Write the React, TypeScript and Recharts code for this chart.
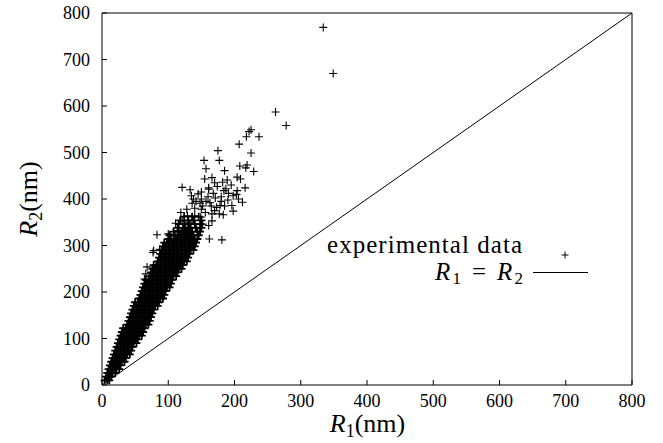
import { ScatterChart, Scatter, XAxis, YAxis, ReferenceLine } from "recharts";

const TICKS = [0, 100, 200, 300, 400, 500, 600, 700, 800];

// dense part of the cloud, one row per R2 level (nm), R1 values read across the band
const coreR2 = [
  10, 18, 26, 34, 42, 50, 58, 66, 74, 82, 90, 98, 106, 114, 122, 130, 138, 146, 154, 162, 170,
  178, 186, 194, 202, 210, 218, 226, 234, 242, 250, 258, 266, 274, 282, 290, 298, 306, 314, 322,
  330, 338, 346, 354, 362,
];
const coreR1 = [
  [4, 8, 11],
  [6, 10, 14],
  [8, 12, 16, 20],
  [10, 14, 18, 22, 26],
  [12, 16, 20, 24, 28],
  [14, 18, 22, 26, 30, 34],
  [16, 20, 24, 28, 32, 36],
  [18, 22, 26, 30, 34, 38, 42],
  [20, 24, 28, 32, 36, 40, 44],
  [22, 26, 30, 34, 38, 42, 46],
  [24, 28, 32, 36, 40, 44, 48, 52],
  [26, 30, 34, 38, 42, 46, 50, 54],
  [28, 32, 36, 40, 44, 48, 52, 56, 60],
  [30, 34, 38, 42, 46, 50, 54, 58, 62],
  [32, 36, 40, 44, 48, 52, 56, 60, 64],
  [38, 42, 46, 50, 54, 58, 62, 66, 70],
  [40, 44, 48, 52, 56, 60, 64, 68, 72],
  [42, 46, 50, 54, 58, 62, 66, 70, 74],
  [44, 48, 52, 56, 60, 64, 68, 72, 76],
  [46, 50, 54, 58, 62, 66, 70, 74, 78],
  [48, 52, 56, 60, 64, 68, 72, 76, 80, 84],
  [50, 54, 58, 62, 66, 70, 74, 78, 82, 86],
  [56, 60, 64, 68, 72, 76, 80, 84, 88, 92],
  [58, 62, 66, 70, 74, 78, 82, 86, 90, 94],
  [60, 64, 68, 72, 76, 80, 84, 88, 92, 96],
  [62, 66, 70, 74, 78, 82, 86, 90, 94, 98, 102],
  [64, 68, 72, 76, 80, 84, 88, 92, 96, 100, 104],
  [66, 70, 74, 78, 82, 86, 90, 94, 98, 102, 106],
  [72, 76, 80, 84, 88, 92, 96, 100, 104, 108, 112],
  [74, 78, 82, 86, 90, 94, 98, 102, 106, 110, 114],
  [76, 80, 84, 88, 92, 96, 100, 104, 108, 112, 116, 120],
  [78, 82, 86, 90, 94, 98, 102, 106, 110, 114, 118, 122],
  [84, 88, 92, 96, 100, 104, 108, 112, 116, 120, 124, 128],
  [86, 90, 94, 98, 102, 106, 110, 114, 118, 122, 126, 130],
  [88, 92, 96, 100, 104, 108, 112, 116, 120, 124, 128, 132],
  [90, 94, 98, 102, 106, 110, 114, 118, 122, 126, 130, 134, 138],
  [92, 96, 100, 104, 108, 112, 116, 120, 124, 128, 132, 136, 140],
  [94, 98, 102, 106, 110, 114, 118, 122, 126, 130, 134, 138, 142],
  [100, 104, 108, 112, 116, 120, 124, 128, 132, 136, 140, 144],
  [102, 110, 114, 118, 122, 126, 130, 134, 138, 146],
  [108, 116, 120, 124, 128, 132, 136, 144, 148],
  [114, 122, 126, 130, 134, 142, 150],
  [116, 124, 132, 140, 148],
  [118, 130, 138, 150],
  [124, 136, 146],
];

// scattered points around and above the band
const outR1 = [
  334, 349, 262, 278, 225, 222, 218, 237, 207, 175, 225, 154, 177, 157, 185, 208, 219, 217, 229,
  155, 166, 189, 204, 209, 121, 133, 135, 161, 174, 187, 191, 198, 203, 145, 184, 216, 161, 204,
  148, 136, 157, 171, 173, 212, 156, 166, 177, 183, 198, 119, 129, 140, 149, 111, 121, 131, 141,
  152, 161, 166, 83, 100, 115, 124, 162, 181, 87, 77, 91, 68, 64, 60, 66, 78, 150, 160, 180, 190,
  165, 185, 140, 150, 170, 142, 152, 163, 178, 196, 206, 168, 180, 150, 138, 195, 170, 182, 128,
];
const outR2 = [
  769, 670, 587, 558, 549, 545, 534, 534, 518, 504, 499, 483, 483, 465, 461, 471, 473, 467, 459,
  443, 446, 441, 447, 443, 425, 420, 407, 424, 427, 422, 412, 407, 410, 411, 418, 424, 421, 418,
  391, 391, 395, 402, 382, 393, 371, 368, 368, 366, 374, 371, 364, 364, 361, 348, 353, 350, 339,
  346, 343, 353, 323, 325, 332, 321, 314, 312, 292, 285, 274, 254, 228, 188, 239, 289, 400, 405,
  395, 398, 385, 385, 380, 378, 375, 395, 385, 392, 386, 386, 400, 412, 405, 415, 400, 430, 435,
  436, 378,
];

const diagR1 = [0, 800];
const diagR2 = [0, 800];

const corePoints = coreR2.flatMap((r2, i) => coreR1[i].map((r1) => ({ x: r1, y: r2 })));
const outPoints = outR1.map((r1, i) => ({ x: r1, y: outR2[i] }));

const FONT = '"Liberation Serif", "DejaVu Serif", "Times New Roman", serif';

const cross = (w: number) => (props: any) => {
  const { cx, cy } = props;
  return <path d={`M${cx - 4},${cy}h8M${cx},${cy - 4}v8`} stroke="#000" strokeWidth={w} fill="none" />;
};
// many thousand overlapping markers in the original make the band solid
const CoreCross = cross(1.8);
const OutCross = cross(1.1);

const BottomTick = ({ x, y, payload }: any) => (
  <g>
    <line x1={x} y1={y} x2={x} y2={y - 5} stroke="#000" />
    <text x={x} y={y + 22} textAnchor="middle" fill="#000" style={{ fontFamily: FONT, fontSize: 18 }}>
      {payload.value}
    </text>
  </g>
);

const LeftTick = ({ x, y, payload }: any) => (
  <g>
    <line x1={x} y1={y} x2={x + 5} y2={y} stroke="#000" />
    <text x={x - 12} y={y + 6} textAnchor="end" fill="#000" style={{ fontFamily: FONT, fontSize: 18 }}>
      {payload.value}
    </text>
  </g>
);

const TopTick = ({ x, y }: any) => <line x1={x} y1={y} x2={x} y2={y + 5} stroke="#000" />;
const RightTick = ({ x, y }: any) => <line x1={x} y1={y} x2={x - 5} y2={y} stroke="#000" />;

export default function App() {
  return (
    <div style={{ position: "absolute", left: 0, top: 0, width: 663, height: 443, background: "#fff", fontFamily: FONT }}>
      <ScatterChart width={663} height={443} margin={{ top: 0, right: 0, bottom: 0, left: 0 }}>
        <XAxis xAxisId="b" type="number" dataKey="x" domain={[0, 800]} ticks={TICKS} height={58}
          axisLine={{ stroke: "#000" }} tickLine={false} tickSize={0} tickMargin={0} tick={<BottomTick />} />
        <XAxis xAxisId="t" orientation="top" type="number" domain={[0, 800]} ticks={TICKS} height={13}
          axisLine={{ stroke: "#000" }} tickLine={false} tickSize={0} tickMargin={0} tick={<TopTick />} />
        <YAxis yAxisId="l" type="number" dataKey="y" domain={[0, 800]} ticks={TICKS} width={102}
          axisLine={{ stroke: "#000" }} tickLine={false} tickSize={0} tickMargin={0} tick={<LeftTick />} />
        <YAxis yAxisId="r" orientation="right" type="number" domain={[0, 800]} ticks={TICKS} width={31}
          axisLine={{ stroke: "#000" }} tickLine={false} tickSize={0} tickMargin={0} tick={<RightTick />} />
        <ReferenceLine xAxisId="b" yAxisId="l" stroke="#000" strokeWidth={1}
          segment={[{ x: diagR1[0], y: diagR2[0] }, { x: diagR1[1], y: diagR2[1] }]} />
        <Scatter xAxisId="b" yAxisId="l" data={corePoints} shape={<CoreCross />} isAnimationActive={false} />
        <Scatter xAxisId="b" yAxisId="l" data={outPoints} shape={<OutCross />} isAnimationActive={false} />
      </ScatterChart>
      <svg width={663} height={443} style={{ position: "absolute", left: 0, top: 0, pointerEvents: "none", fontFamily: FONT }}>
        <text x={522} y={253} textAnchor="end" fontSize={25} textLength={195} lengthAdjust="spacing">experimental data</text>
        <path d="M561.5,255h7M565,251.5v7" stroke="#000" strokeWidth={1} />
        <text x={523} y={280} textAnchor="end" fontSize={25} textLength={88} lengthAdjust="spacing">
          <tspan fontStyle="italic">R</tspan>
          <tspan fontSize={17} dy={4}>1</tspan>
          <tspan dy={-4}> = </tspan>
          <tspan fontStyle="italic">R</tspan>
          <tspan fontSize={17} dy={4}>2</tspan>
        </text>
        <line x1={533} y1={272.5} x2={588} y2={272.5} stroke="#000" />
        <text x={367.5} y={432} textAnchor="middle" fontSize={26}>
          <tspan fontStyle="italic">R</tspan>
          <tspan fontSize={18} dy={5}>1</tspan>
          <tspan dy={-5}>(nm)</tspan>
        </text>
        <text transform="translate(37,199) rotate(-90)" textAnchor="middle" fontSize={26}>
          <tspan fontStyle="italic">R</tspan>
          <tspan fontSize={18} dy={5}>2</tspan>
          <tspan dy={-5}>(nm)</tspan>
        </text>
      </svg>
    </div>
  );
}
